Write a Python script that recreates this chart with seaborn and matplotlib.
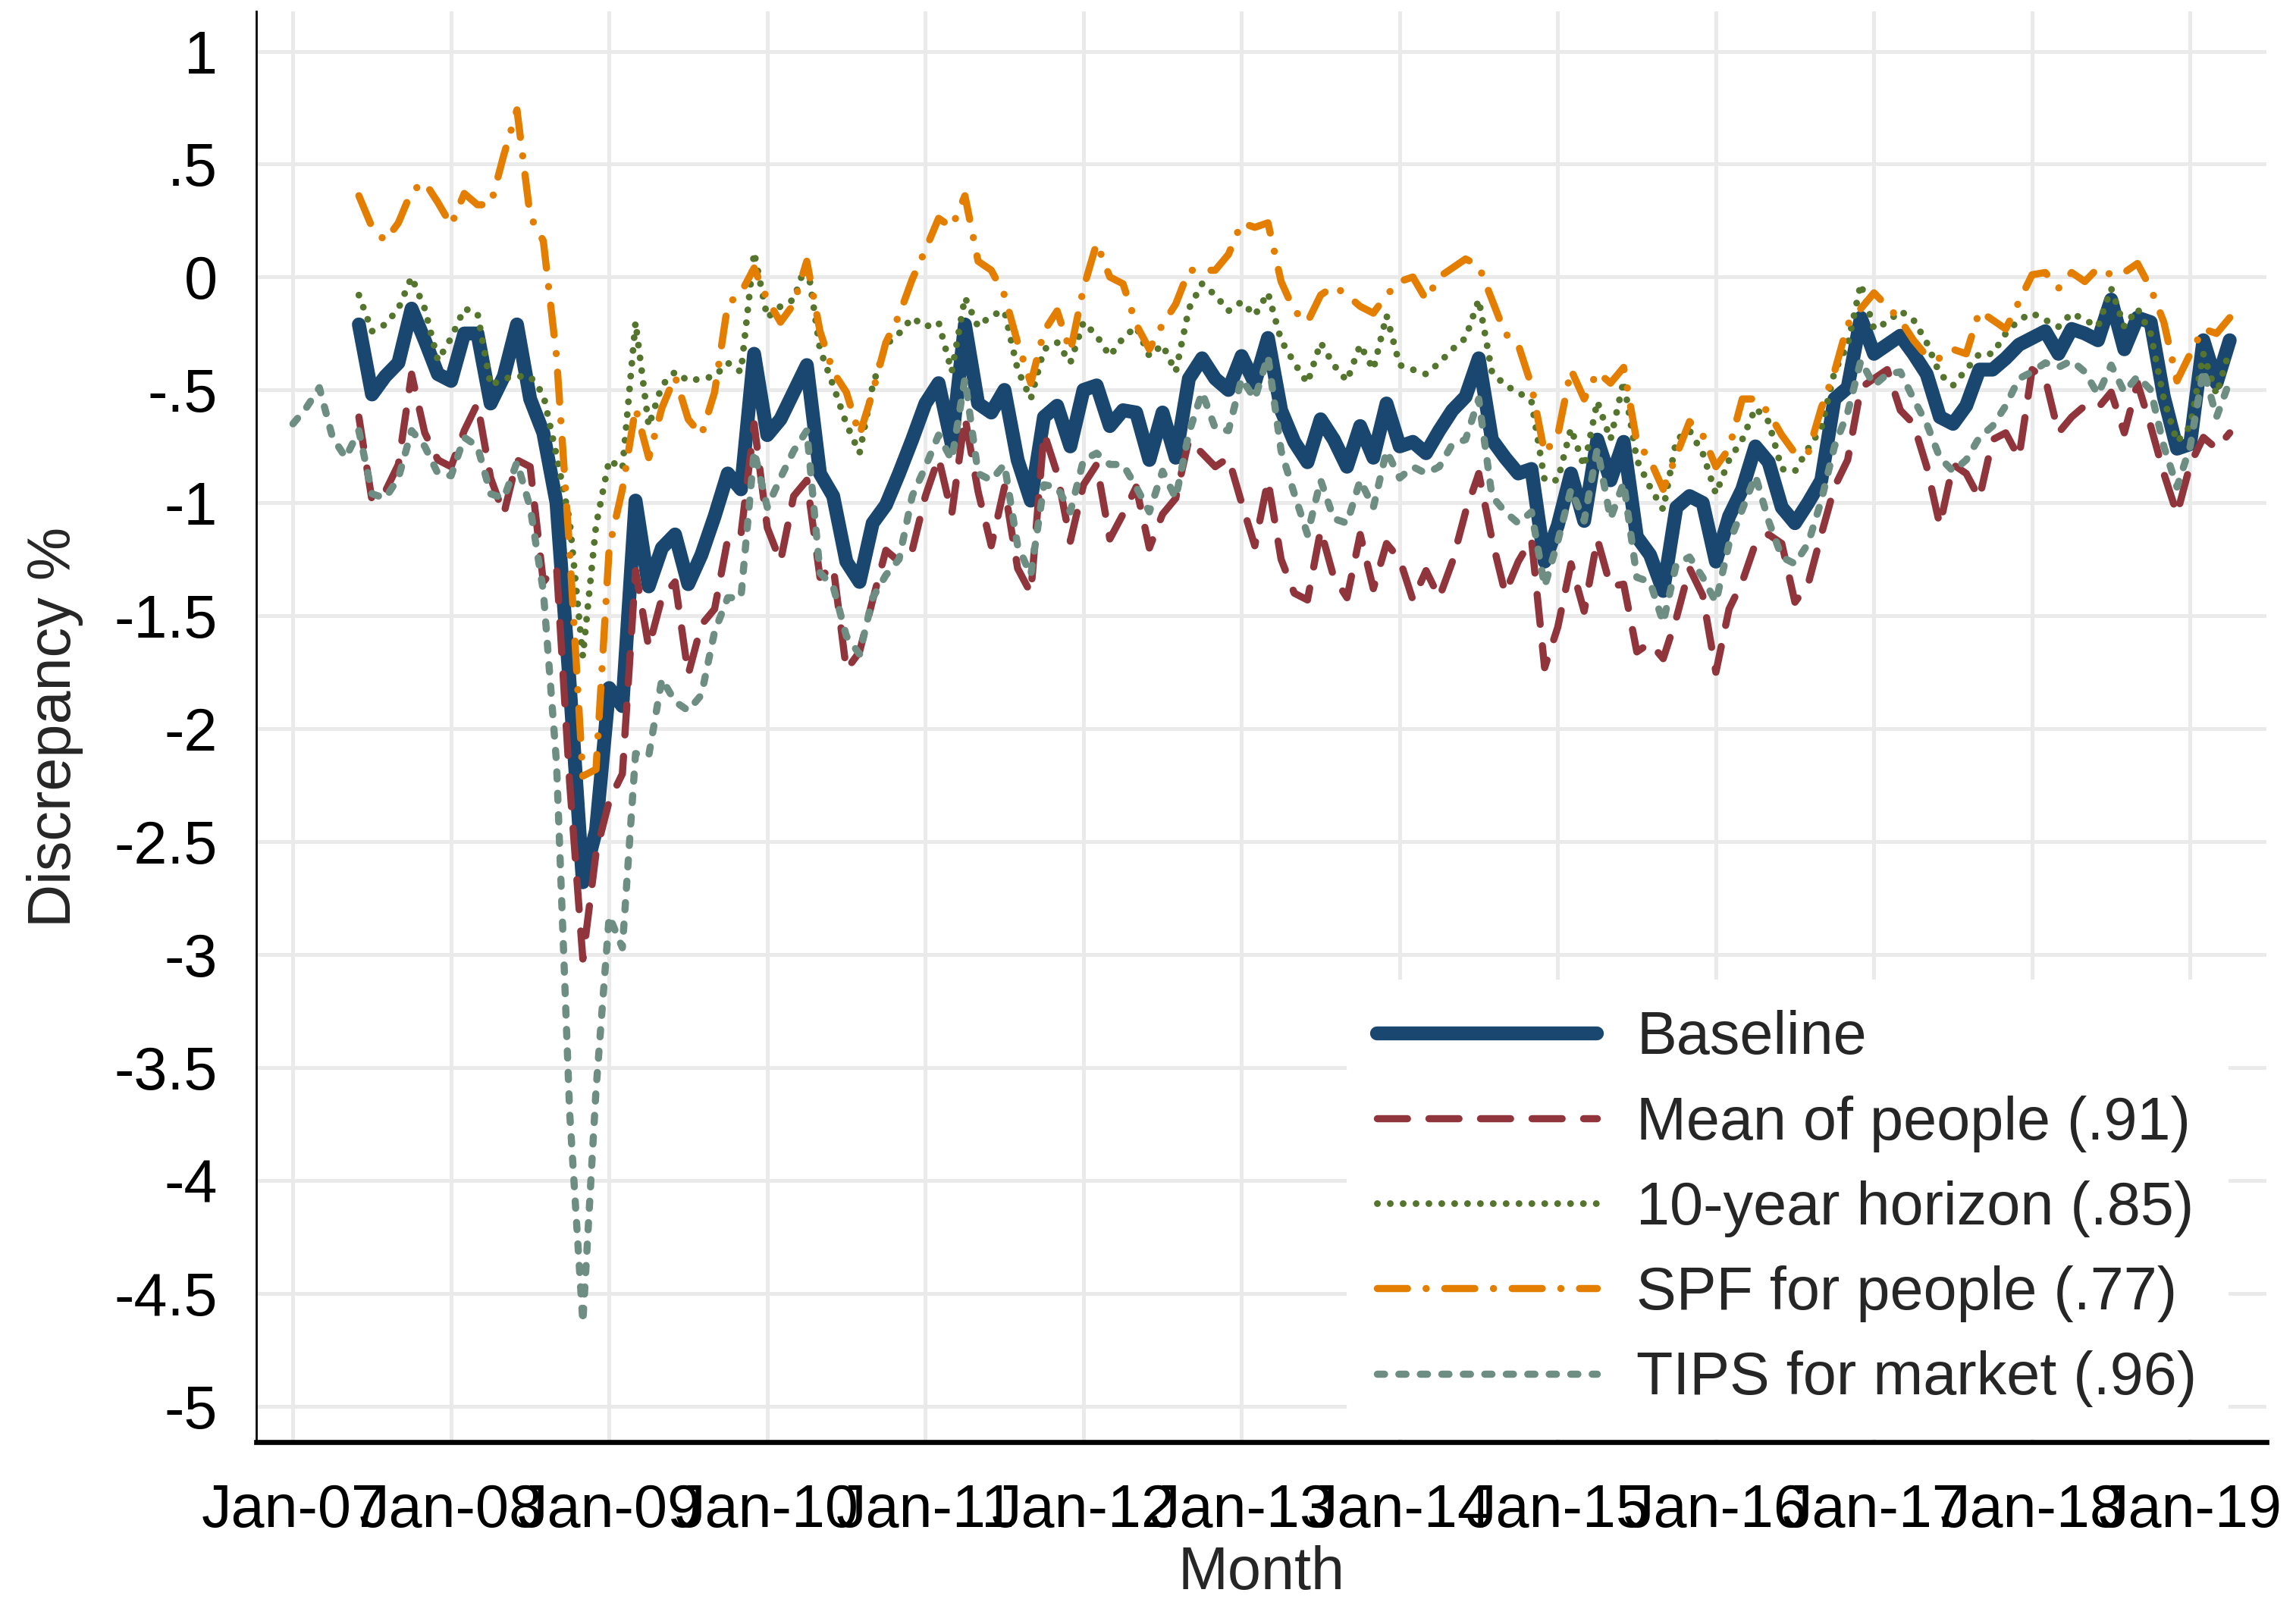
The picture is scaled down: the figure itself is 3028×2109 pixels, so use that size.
import numpy as np
import pandas as pd
import matplotlib.pyplot as plt
import seaborn as sns

# Data: monthly discrepancy (%), month 0 = Jan-2007
# survey-based series start Jun-2007 (month 5), TIPS starts Jan-2007
survey_start = 5
tips_start = 0

baseline = [
    -0.21, -0.52, -0.44, -0.38, -0.14, -0.28, -0.43,
    -0.46, -0.25, -0.25, -0.56, -0.44, -0.21, -0.54, -0.69, -1.00, -1.80, -2.68, -2.45,
    -1.82, -1.90, -0.99, -1.37, -1.20, -1.14, -1.36, -1.23, -1.06, -0.87, -0.94, -0.34,
    -0.70, -0.63, -0.51, -0.39, -0.87, -0.97, -1.26, -1.35, -1.09, -1.01, -0.87, -0.72,
    -0.56, -0.47, -0.74, -0.21, -0.56, -0.60, -0.50, -0.81, -0.99, -0.62, -0.57, -0.75,
    -0.50, -0.48, -0.66, -0.59, -0.60, -0.81, -0.60, -0.80, -0.45, -0.36, -0.45, -0.50,
    -0.35, -0.47, -0.27, -0.59, -0.73, -0.82, -0.63, -0.72, -0.84, -0.66, -0.80, -0.56,
    -0.75, -0.73, -0.78, -0.68, -0.59, -0.53, -0.36, -0.72, -0.80, -0.87, -0.85, -1.26,
    -1.10, -0.87, -1.08, -0.72, -0.90, -0.73, -1.15, -1.23, -1.39, -1.02, -0.97, -1.00,
    -1.26, -1.06, -0.94, -0.75, -0.82, -1.02, -1.09, -1.00, -0.90, -0.54, -0.49, -0.18,
    -0.34, -0.30, -0.26, -0.34, -0.43, -0.62, -0.65, -0.57, -0.41, -0.41, -0.36, -0.30,
    -0.27, -0.24, -0.34, -0.23, -0.25, -0.28, -0.10, -0.32, -0.18, -0.20, -0.53, -0.76,
    -0.74, -0.28, -0.47, -0.28,
]

mean_people = [
    -0.62, -0.99, -0.95, -0.83, -0.43, -0.69, -0.81,
    -0.84, -0.68, -0.56, -0.89, -1.05, -0.81, -0.84, -1.35, -1.28, -2.24, -3.02, -2.55,
    -2.32, -2.20, -1.30, -1.64, -1.42, -1.35, -1.76, -1.54, -1.47, -1.16, -1.14, -0.65,
    -1.11, -1.26, -0.97, -0.90, -1.33, -1.28, -1.74, -1.66, -1.43, -1.21, -1.26, -1.21,
    -0.97, -0.80, -1.05, -0.62, -0.95, -1.19, -0.93, -1.29, -1.40, -0.69, -0.87, -1.17,
    -0.92, -0.83, -1.16, -1.05, -0.93, -1.20, -1.05, -0.98, -0.72, -0.78, -0.84, -0.80,
    -1.00, -1.19, -0.90, -1.25, -1.40, -1.43, -1.12, -1.33, -1.42, -1.14, -1.38, -1.18,
    -1.25, -1.43, -1.30, -1.42, -1.26, -1.04, -0.87, -1.16, -1.40, -1.26, -1.16, -1.73,
    -1.55, -1.27, -1.48, -1.16, -1.37, -1.36, -1.66, -1.62, -1.69, -1.51, -1.29, -1.41,
    -1.75, -1.47, -1.35, -1.18, -1.14, -1.18, -1.44, -1.36, -1.14, -0.93, -0.81, -0.49,
    -0.45, -0.41, -0.59, -0.65, -0.84, -1.10, -0.83, -0.87, -0.98, -0.72, -0.69, -0.80,
    -0.41, -0.45, -0.69, -0.62, -0.57, -0.58, -0.51, -0.69, -0.47, -0.66, -0.87, -1.05,
    -0.83, -0.71, -0.76, -0.69,
]

ten_year = [
    -0.08, -0.24, -0.21, -0.14, 0.00, -0.14, -0.37,
    -0.27, -0.14, -0.16, -0.48, -0.45, -0.44, -0.44, -0.52, -0.79, -1.08, -1.68, -1.10,
    -0.81, -0.85, -0.20, -0.66, -0.48, -0.42, -0.46, -0.45, -0.44, -0.38, -0.42, 0.11,
    -0.18, -0.13, -0.10, 0.07, -0.32, -0.48, -0.65, -0.78, -0.48, -0.30, -0.25, -0.18,
    -0.22, -0.20, -0.42, -0.09, -0.22, -0.17, -0.15, -0.41, -0.54, -0.32, -0.29, -0.38,
    -0.20, -0.26, -0.35, -0.27, -0.22, -0.35, -0.30, -0.42, -0.14, -0.03, -0.08, -0.15,
    -0.11, -0.17, -0.07, -0.28, -0.38, -0.47, -0.29, -0.39, -0.46, -0.30, -0.41, -0.17,
    -0.39, -0.41, -0.43, -0.38, -0.32, -0.27, -0.10, -0.42, -0.48, -0.51, -0.55, -0.90,
    -0.90, -0.67, -0.84, -0.55, -0.72, -0.46, -0.81, -0.93, -1.03, -0.72, -0.68, -0.78,
    -0.96, -0.81, -0.72, -0.58, -0.64, -0.85, -0.86, -0.76, -0.67, -0.42, -0.30, -0.03,
    -0.23, -0.20, -0.15, -0.19, -0.29, -0.43, -0.48, -0.41, -0.34, -0.34, -0.25, -0.19,
    -0.16, -0.19, -0.22, -0.16, -0.19, -0.22, -0.05, -0.22, -0.14, -0.25, -0.54, -0.73,
    -0.66, -0.34, -0.52, -0.32,
]

spf_people = [
    0.36, 0.22, 0.16, 0.24, 0.38, 0.42, 0.33,
    0.23, 0.37, 0.32, 0.32, 0.54, 0.74, 0.27, 0.16, -0.35, -1.21, -2.21, -2.18,
    -1.20, -0.94, -0.58, -0.80, -0.58, -0.44, -0.63, -0.70, -0.51, -0.12, -0.07, 0.04,
    -0.10, -0.20, -0.12, 0.07, -0.24, -0.42, -0.51, -0.70, -0.51, -0.29, -0.17, -0.01,
    0.12, 0.26, 0.22, 0.36, 0.07, 0.03, -0.08, -0.29, -0.47, -0.24, -0.15, -0.33,
    -0.05, 0.15, 0.00, -0.03, -0.21, -0.32, -0.21, -0.12, 0.03, 0.03, 0.03, 0.10,
    0.24, 0.22, 0.24, -0.02, -0.15, -0.20, -0.08, -0.04, -0.08, -0.13, -0.16, -0.08,
    -0.02, 0.00, -0.10, 0.00, 0.04, 0.08, 0.05, -0.10, -0.25, -0.30, -0.48, -0.78,
    -0.70, -0.41, -0.54, -0.42, -0.47, -0.40, -0.73, -0.81, -0.94, -0.79, -0.64, -0.70,
    -0.84, -0.76, -0.54, -0.54, -0.60, -0.70, -0.78, -0.78, -0.58, -0.42, -0.21, -0.14,
    -0.07, -0.13, -0.19, -0.28, -0.35, -0.36, -0.32, -0.34, -0.15, -0.19, -0.23, -0.11,
    0.01, 0.02, -0.05, 0.02, -0.02, 0.04, 0.01, 0.02, 0.06, -0.05, -0.20, -0.46,
    -0.34, -0.23, -0.25, -0.18,
]

tips_market = [
    -0.65, -0.58, -0.49, -0.71, -0.80, -0.68, -0.96, -0.98, -0.89, -0.68, -0.75, -0.87,
    -0.88, -0.71, -0.75, -0.96, -0.98, -0.82, -1.02, -1.39, -2.15, -3.70, -4.63, -3.60,
    -2.83, -2.97, -2.11, -2.12, -1.78, -1.88, -1.92, -1.85, -1.57, -1.42, -1.42, -0.77,
    -1.02, -0.89, -0.77, -0.68, -1.31, -1.37, -1.59, -1.67, -1.42, -1.32, -1.25, -0.97,
    -0.84, -0.70, -0.81, -0.45, -0.87, -0.90, -0.83, -1.19, -1.32, -0.92, -0.93, -1.04,
    -0.81, -0.78, -0.83, -0.83, -0.93, -1.04, -0.86, -0.98, -0.69, -0.51, -0.67, -0.68,
    -0.45, -0.54, -0.35, -0.77, -0.96, -1.14, -0.90, -1.07, -1.09, -0.90, -1.02, -0.77,
    -0.89, -0.84, -0.87, -0.84, -0.74, -0.72, -0.54, -0.97, -1.04, -1.09, -1.04, -1.37,
    -1.17, -0.94, -1.08, -0.76, -1.07, -0.91, -1.33, -1.35, -1.53, -1.27, -1.24, -1.33,
    -1.44, -1.18, -1.03, -0.88, -1.08, -1.24, -1.27, -1.18, -0.99, -0.75, -0.60, -0.37,
    -0.48, -0.43, -0.42, -0.54, -0.65, -0.80, -0.86, -0.81, -0.71, -0.66, -0.57, -0.45,
    -0.42, -0.38, -0.40, -0.37, -0.42, -0.52, -0.39, -0.51, -0.44, -0.50, -0.75, -0.93,
    -0.75, -0.41, -0.62, -0.46,
]

series_labels = ['Baseline', 'Mean of people (.91)', '10-year horizon (.85)',
                 'SPF for people (.77)', 'TIPS for market (.96)']
year_labels = ['Jan-07', 'Jan-08', 'Jan-09', 'Jan-10', 'Jan-11', 'Jan-12', 'Jan-13',
               'Jan-14', 'Jan-15', 'Jan-16', 'Jan-17', 'Jan-18', 'Jan-19']
y_ticks = np.arange(1, -5.01, -0.5)

# Long table for seaborn
frames = []
for label, vals, start in zip(series_labels,
                              [baseline, mean_people, ten_year, spf_people, tips_market],
                              [survey_start] * 4 + [tips_start]):
    frames.append(pd.DataFrame({'month': np.arange(start, start + len(vals)),
                                'value': vals, 'series': label}))
df = pd.concat(frames, ignore_index=True)

# Stata s2color look
colors = ['#1A476F', '#90353B', '#55752F', '#E37E00', '#6E8E84']
widths = [6.6, 3.4, 3.2, 3.4, 3.4]
styles = ['-', (0, (4.2, 3.0)), (0, (0.01, 1.9)), (0, (4.2, 2.6, 0.01, 2.6)), (0, (1.0, 2.0))]

sns.set_style("white")
plt.rcParams['font.family'] = ['Liberation Sans', 'DejaVu Sans']
fs = 28.5

fig, ax = plt.subplots(figsize=(15.14, 10.545), dpi=200)
fig.subplots_adjust(left=0.1116, right=0.9872, bottom=0.098, top=0.9927)

for label, col, lw, ls in zip(series_labels, colors, widths, styles):
    sub = df[df['series'] == label]
    sns.lineplot(data=sub, x='month', y='value', ax=ax, color=col, lw=lw,
                 linestyle=ls, dash_capstyle='round', solid_capstyle='round',
                 solid_joinstyle='round', dash_joinstyle='round',
                 label=label, legend=False)

ax.grid(True, color='#EAEAEA', lw=1.8)
ax.set_axisbelow(True)

ax.set_xlim(-2.79, 149.8)
ax.set_ylim(-5.16, 1.175)
ax.set_xticks(np.arange(0, 145, 12))
ax.set_xticklabels(year_labels)
ax.set_yticks(y_ticks)
ax.set_yticklabels([f'{v:g}'.replace('0.', '.') for v in y_ticks])

for s in ['top', 'right']:
    ax.spines[s].set_visible(False)
ax.spines['bottom'].set_linewidth(2.4)
ax.spines['left'].set_linewidth(1.0)
ax.spines['bottom'].set_color('black')
ax.spines['left'].set_color('black')

ax.tick_params(axis='x', length=11.5, width=1, pad=8, labelsize=fs, colors='black')
ax.tick_params(axis='y', length=10.4, width=1, pad=8, labelsize=fs, colors='black')

ax.set_xlabel('Month', fontsize=fs)
ax.xaxis.set_label_coords(0.5, -0.072)
ax.set_ylabel('Discrepancy %', fontsize=fs)
ax.yaxis.set_label_coords(-0.086, 0.5)

ax.legend(loc='upper left', bbox_to_anchor=(0.5426, 0.323), borderaxespad=0,
          frameon=True, framealpha=1, edgecolor='white', facecolor='white',
          fancybox=False, fontsize=fs, handlelength=3.66, handletextpad=0.66,
          labelspacing=0.47, borderpad=0.5)

fig.savefig('out.png', dpi=200)
